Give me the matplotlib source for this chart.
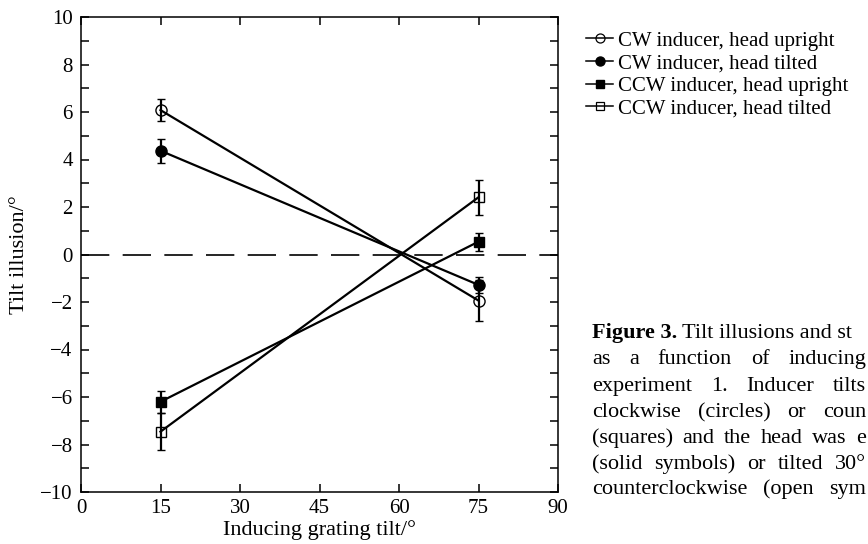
import matplotlib
matplotlib.use("Agg")
import matplotlib.pyplot as plt
from matplotlib.lines import Line2D
from matplotlib.ticker import MultipleLocator

plt.rcParams['font.family'] = ['Liberation Serif', 'DejaVu Serif']

# data
tilt = [15, 75]
cw_upright = [6.08, -1.94]
cw_upright_err = [0.45, 0.85]
cw_tilted = [4.37, -1.28]
cw_tilted_err = [0.50, 0.33]
ccw_upright = [-6.20, 0.54]
ccw_upright_err = [0.47, 0.38]
ccw_tilted = [-7.46, 2.41]
ccw_tilted_err = [0.77, 0.74]

labels = ["CW inducer, head upright", "CW inducer, head tilted",
          "CCW inducer, head upright", "CCW inducer, head tilted"]

caption = [
    "as a function of inducing",
    "experiment 1. Inducer tilts",
    "clockwise (circles) or coun",
    "(squares) and the head was e",
    "(solid symbols) or tilted 30°",
    "counterclockwise (open sym",
]

W, H = 868, 544
fig = plt.figure(figsize=(W / 100, H / 100), dpi=100)
ax = fig.add_axes([81 / W, 1 - 492 / H, 477 / W, 475 / H])

series = [
    (cw_upright, cw_upright_err, 'o', 'none'),
    (cw_tilted, cw_tilted_err, 'o', 'k'),
    (ccw_upright, ccw_upright_err, 's', 'k'),
    (ccw_tilted, ccw_tilted_err, 's', 'none'),
]
for vals, err, mk, fc in series:
    ax.errorbar(tilt, vals, yerr=err, color='k', marker=mk, mfc=fc, mec='k',
                ms=8 if mk == 'o' else 7.5, mew=1.0, lw=1.6, elinewidth=1.6,
                capsize=3.2, capthick=1.4)

ax.axhline(0, color='k', lw=1.2, dashes=(17, 8))

ax.set_xlim(0, 90)
ax.set_ylim(-10, 10)
ax.xaxis.set_major_locator(MultipleLocator(15))
ax.yaxis.set_major_locator(MultipleLocator(2))
ax.yaxis.set_minor_locator(MultipleLocator(1))
ax.tick_params(which='both', direction='in', top=True, right=True,
               length=6, width=1.1, labelsize=15)
ax.tick_params(axis='x', pad=5)
ax.tick_params(axis='y', pad=6)
for s in ax.spines.values():
    s.set_linewidth(1.1)

ax.set_xlabel("Inducing grating tilt/°", fontsize=16)
ax.set_ylabel("Tilt illusion/°", fontsize=16)
ax.xaxis.set_label_coords(0.5, -0.06)
ax.yaxis.set_label_coords(-0.11, 0.5)

handles = [
    Line2D([], [], color='k', lw=1.1, marker='o', mfc='none', ms=6.5, mew=0.9),
    Line2D([], [], color='k', lw=1.1, marker='o', mfc='k', ms=6.5),
    Line2D([], [], color='k', lw=1.1, marker='s', mfc='k', ms=6),
    Line2D([], [], color='k', lw=1.1, marker='s', mfc='none', ms=6, mew=0.9),
]
fig.legend(handles, labels, loc='upper left', bbox_to_anchor=(586 / W, 1 - 31 / H),
           frameon=False, fontsize=15, handlelength=1.3, handletextpad=0.25,
           labelspacing=0.15, borderpad=0, borderaxespad=0, numpoints=1)

# caption, justified by hand
renderer = fig.canvas.get_renderer()
x0 = 592
t = fig.text(x0 / W, 1 - 338 / H, "Figure 3.", fontsize=16, fontweight='bold')
wb = t.get_window_extent(renderer).width
fig.text((x0 + wb + 5) / W, 1 - 338 / H, "Tilt illusions and st", fontsize=16)

baselines = [364, 391, 417, 443, 469, 494]
for line, yb in zip(caption, baselines):
    words = line.split(" ")
    objs = [fig.text(0, 1 - yb / H, w, fontsize=16) for w in words]
    widths = [o.get_window_extent(renderer).width for o in objs]
    gap = (866 - x0 - sum(widths)) / (len(words) - 1)
    x = x0
    for o, w in zip(objs, widths):
        o.set_x(x / W)
        x += w + gap

fig.savefig("out.png", dpi=100)
